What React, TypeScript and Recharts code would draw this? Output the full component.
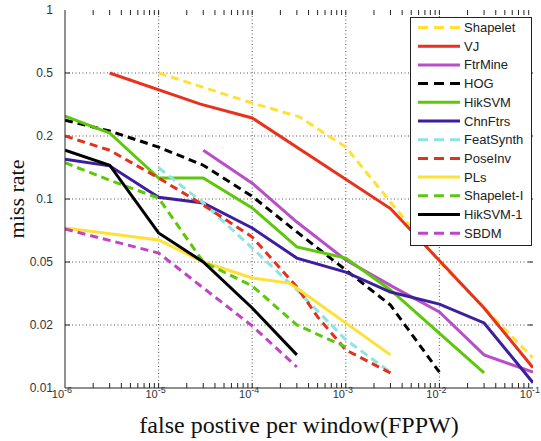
import React from "react";
import {
  LineChart,
  Line,
  XAxis,
  YAxis,
  ReferenceLine,
  Legend,
} from "recharts";

// [false positives per window, miss rate]
const SHAPELET = [[1e-5, 0.5], [1e-4, 0.323], [3.2e-4, 0.264], [1e-3, 0.177], [1e-2, 0.05], [0.1, 0.0139]];
const VJ = [[3e-6, 0.5], [2.8e-5, 0.318], [1e-4, 0.26], [3e-3, 0.09], [3e-2, 0.0256], [0.1, 0.0125]];
const FTRMINE = [[3e-5, 0.171], [1e-4, 0.119], [3e-4, 0.0776], [1e-3, 0.0511], [3.2e-3, 0.0348], [1e-2, 0.0242], [3e-2, 0.0144], [0.1, 0.0119]];
const HOG = [[1e-6, 0.252], [3e-6, 0.215], [1e-5, 0.177], [3e-5, 0.145], [1e-4, 0.103], [3e-4, 0.0696], [1e-3, 0.0445], [3e-3, 0.0267], [1e-2, 0.0119]];
const HIKSVM = [[1e-6, 0.267], [3e-6, 0.209], [1e-5, 0.126], [3e-5, 0.126], [1e-4, 0.0906], [3e-4, 0.059], [1e-3, 0.0522], [3e-3, 0.0333], [3e-2, 0.0118]];
const CHNFTRS = [[1e-6, 0.155], [3e-6, 0.144], [1e-5, 0.102], [3e-5, 0.0957], [1e-4, 0.0727], [3e-4, 0.0522], [1e-3, 0.0432], [3e-3, 0.0323], [1e-2, 0.0271], [3e-2, 0.0206], [0.1, 0.0106]];
const FEATSYNTH = [[1e-5, 0.141], [3e-5, 0.0957], [1e-4, 0.0583], [3e-4, 0.0333], [1e-3, 0.017], [3e-3, 0.0119]];
const POSEINV = [[1e-6, 0.2], [3e-6, 0.171], [1e-5, 0.126], [3e-5, 0.0936], [1e-4, 0.0658], [3e-4, 0.0348], [5e-4, 0.0225], [1e-3, 0.0152], [3e-3, 0.0118]];
const PLS = [[1e-6, 0.0727], [1e-5, 0.0637], [3e-5, 0.05], [1e-4, 0.0396], [2.5e-4, 0.0368], [3.2e-4, 0.0333], [3e-3, 0.0144]];
const SHAPELET_I = [[1e-6, 0.149], [3e-6, 0.123], [1e-5, 0.101], [3e-5, 0.05], [1e-4, 0.0353], [3e-4, 0.02], [1e-3, 0.0157]];
const HIKSVM_1 = [[1e-6, 0.171], [3e-6, 0.145], [1e-5, 0.0688], [3e-5, 0.05], [1e-4, 0.0256], [3e-4, 0.0144]];
const SBDM = [[1e-6, 0.0719], [1e-5, 0.0552], [3e-5, 0.0343], [1e-4, 0.0198], [3e-4, 0.0126]];

const Y_TICK_VALUES = [0.01, 0.02, 0.05, 0.1, 0.2, 0.5, 1];
const Y_TICK_LABELS = ["0.01", "0.02", "0.05", "0.1", "0.2", "0.5", "1"];
const X_DECADES = [1e-6, 1e-5, 1e-4, 1e-3, 1e-2, 1e-1];

const SERIES = [
  { name: "Shapelet", points: SHAPELET, color: "#FFE135", dashed: true },
  { name: "VJ", points: VJ, color: "#E8321E", dashed: false },
  { name: "FtrMine", points: FTRMINE, color: "#B94FC8", dashed: false },
  { name: "HOG", points: HOG, color: "#000000", dashed: true },
  { name: "HikSVM", points: HIKSVM, color: "#5DC80A", dashed: false },
  { name: "ChnFtrs", points: CHNFTRS, color: "#3B1F9E", dashed: false },
  { name: "FeatSynth", points: FEATSYNTH, color: "#8EE3E3", dashed: true },
  { name: "PoseInv", points: POSEINV, color: "#E3311D", dashed: true },
  { name: "PLs", points: PLS, color: "#FFE135", dashed: false },
  { name: "Shapelet-I", points: SHAPELET_I, color: "#5DC80A", dashed: true },
  { name: "HikSVM-1", points: HIKSVM_1, color: "#000000", dashed: false },
  { name: "SBDM", points: SBDM, color: "#C045C4", dashed: true },
];

// the y axis puts its ticks at equal spacing, log in between
const toAxis = (v: number) => {
  for (let i = 0; i < Y_TICK_VALUES.length - 1; i++) {
    const a = Y_TICK_VALUES[i];
    const b = Y_TICK_VALUES[i + 1];
    if (v <= b || i === Y_TICK_VALUES.length - 2) {
      return i + Math.log(v / a) / Math.log(b / a);
    }
  }
  return 0;
};

const xTicks: number[] = [];
X_DECADES.forEach((d, i) => {
  xTicks.push(d);
  if (i < X_DECADES.length - 1) {
    for (let k = 2; k <= 9; k++) xTicks.push(d * k);
  }
});
const yTicks = Y_TICK_VALUES.map((_, i) => i);

// inward tick length, in axis units (about 5px)
const TICK_Y = 5 / 63;
const TICK_X = Math.pow(10, 5 / 93.6);

const SANS = "'Liberation Sans', Arial, sans-serif";
const SERIF = "'Liberation Serif', 'Times New Roman', serif";

const XTick = (props: any) => {
  const { x, y, payload } = props;
  const lg = Math.log10(payload.value);
  const e = Math.round(lg);
  if (Math.abs(lg - e) > 1e-6) return <g />;
  return (
    <text x={x - 3} y={y} textAnchor="middle" fontSize={11} fontFamily={SANS} fill="#333">
      <tspan>10</tspan>
      <tspan dy={-5} fontSize={9}>{e}</tspan>
    </text>
  );
};

const LegendBox = () => (
  <svg width={122} height={229}>
    <rect x={0.5} y={0.5} width={121} height={228} fill="#fff" stroke="#222" />
    {SERIES.map((s, i) => {
      const cy = 10.5 + i * 18.7;
      return (
        <g key={s.name}>
          <line
            x1={8}
            x2={50}
            y1={cy}
            y2={cy}
            stroke={s.color}
            strokeWidth={3}
            strokeDasharray={s.dashed ? "10 6" : undefined}
          />
          <text x={54} y={cy} dy="0.35em" fontSize={13} fontFamily={SANS} fill="#222">
            {s.name}
          </text>
        </g>
      );
    })}
  </svg>
);

const tickStyle = { stroke: "#222", strokeWidth: 1 };

export default function App() {
  const inner = xTicks.slice(1, -1);
  const innerY = yTicks.slice(1, -1);
  return (
    <div style={{ position: "absolute", left: 0, top: 0, background: "#fff" }}>
      <LineChart width={541} height={441} margin={{ top: 10, right: 8, bottom: 23, left: 20 }}>
        <XAxis
          xAxisId="b"
          dataKey="x"
          type="number"
          scale="log"
          domain={[1e-6, 0.1]}
          allowDataOverflow
          ticks={xTicks}
          interval={0}
          tickSize={0}
          tickLine={false}
          tickMargin={10}
          tick={<XTick />}
          height={30}
          stroke="#222"
          label={{
            content: (p: any) => (
              <text
                x={p.viewBox.x + p.viewBox.width / 2}
                y={p.viewBox.y + 45}
                textAnchor="middle"
                fontSize={24}
                fontFamily={SERIF}
                fill="#111"
              >
                false postive per window(FPPW)
              </text>
            ),
          }}
        />
        <XAxis
          xAxisId="t"
          orientation="top"
          type="number"
          scale="log"
          domain={[1e-6, 0.1]}
          allowDataOverflow
          ticks={X_DECADES}
          tick={false}
          tickLine={false}
          height={0}
          stroke="#222"
        />
        <YAxis
          yAxisId="l"
          type="number"
          domain={[0, 6]}
          ticks={yTicks}
          interval={0}
          tickSize={0}
          tickLine={false}
          tickMargin={12}
          tickFormatter={(i: number) => Y_TICK_LABELS[i]}
          tick={{ fontSize: 12, fontFamily: SANS, fill: "#333" }}
          width={45}
          stroke="#222"
          label={{
            content: () => (
              <text
                x={24}
                y={199}
                transform="rotate(-90 24 199)"
                textAnchor="middle"
                fontSize={22}
                fontFamily={SERIF}
                fill="#111"
              >
                miss rate
              </text>
            ),
          }}
        />
        <YAxis
          yAxisId="r"
          orientation="right"
          type="number"
          domain={[0, 6]}
          ticks={yTicks}
          tick={false}
          tickLine={false}
          width={0}
          stroke="#222"
        />
        {X_DECADES.slice(1, -1).map((d) => (
          <ReferenceLine key={"gx" + d} x={d} xAxisId="b" yAxisId="l" stroke="#555" strokeDasharray="1 2.5" />
        ))}
        {innerY.map((t) => (
          <ReferenceLine key={"gy" + t} y={t} xAxisId="b" yAxisId="l" stroke="#555" strokeDasharray="1 2.5" />
        ))}
        {inner.map((t) => (
          <ReferenceLine
            key={"tb" + t}
            xAxisId="b"
            yAxisId="l"
            segment={[{ x: t, y: 0 }, { x: t, y: TICK_Y }]}
            {...tickStyle}
          />
        ))}
        {inner.map((t) => (
          <ReferenceLine
            key={"tt" + t}
            xAxisId="b"
            yAxisId="l"
            segment={[{ x: t, y: 6 }, { x: t, y: 6 - TICK_Y }]}
            {...tickStyle}
          />
        ))}
        {innerY.map((t) => (
          <ReferenceLine
            key={"tl" + t}
            xAxisId="b"
            yAxisId="l"
            segment={[{ x: 1e-6, y: t }, { x: 1e-6 * TICK_X, y: t }]}
            {...tickStyle}
          />
        ))}
        {innerY.map((t) => (
          <ReferenceLine
            key={"tr" + t}
            xAxisId="b"
            yAxisId="l"
            segment={[{ x: 0.1, y: t }, { x: 0.1 / TICK_X, y: t }]}
            {...tickStyle}
          />
        ))}
        {SERIES.map((s) => (
          <Line
            key={s.name}
            name={s.name}
            xAxisId="b"
            yAxisId="l"
            data={s.points.map(([x, y]) => ({ x, y }))}
            dataKey={(d: any) => toAxis(d.y)}
            type="linear"
            stroke={s.color}
            strokeWidth={3}
            strokeDasharray={s.dashed ? "8 5" : undefined}
            dot={false}
            isAnimationActive={false}
          />
        ))}
        <Legend
          layout="vertical"
          align="center"
          verticalAlign="middle"
          content={() => <LegendBox />}
          wrapperStyle={{ position: "absolute", left: 410, top: 17, width: 122, height: 229 }}
        />
      </LineChart>
    </div>
  );
}
